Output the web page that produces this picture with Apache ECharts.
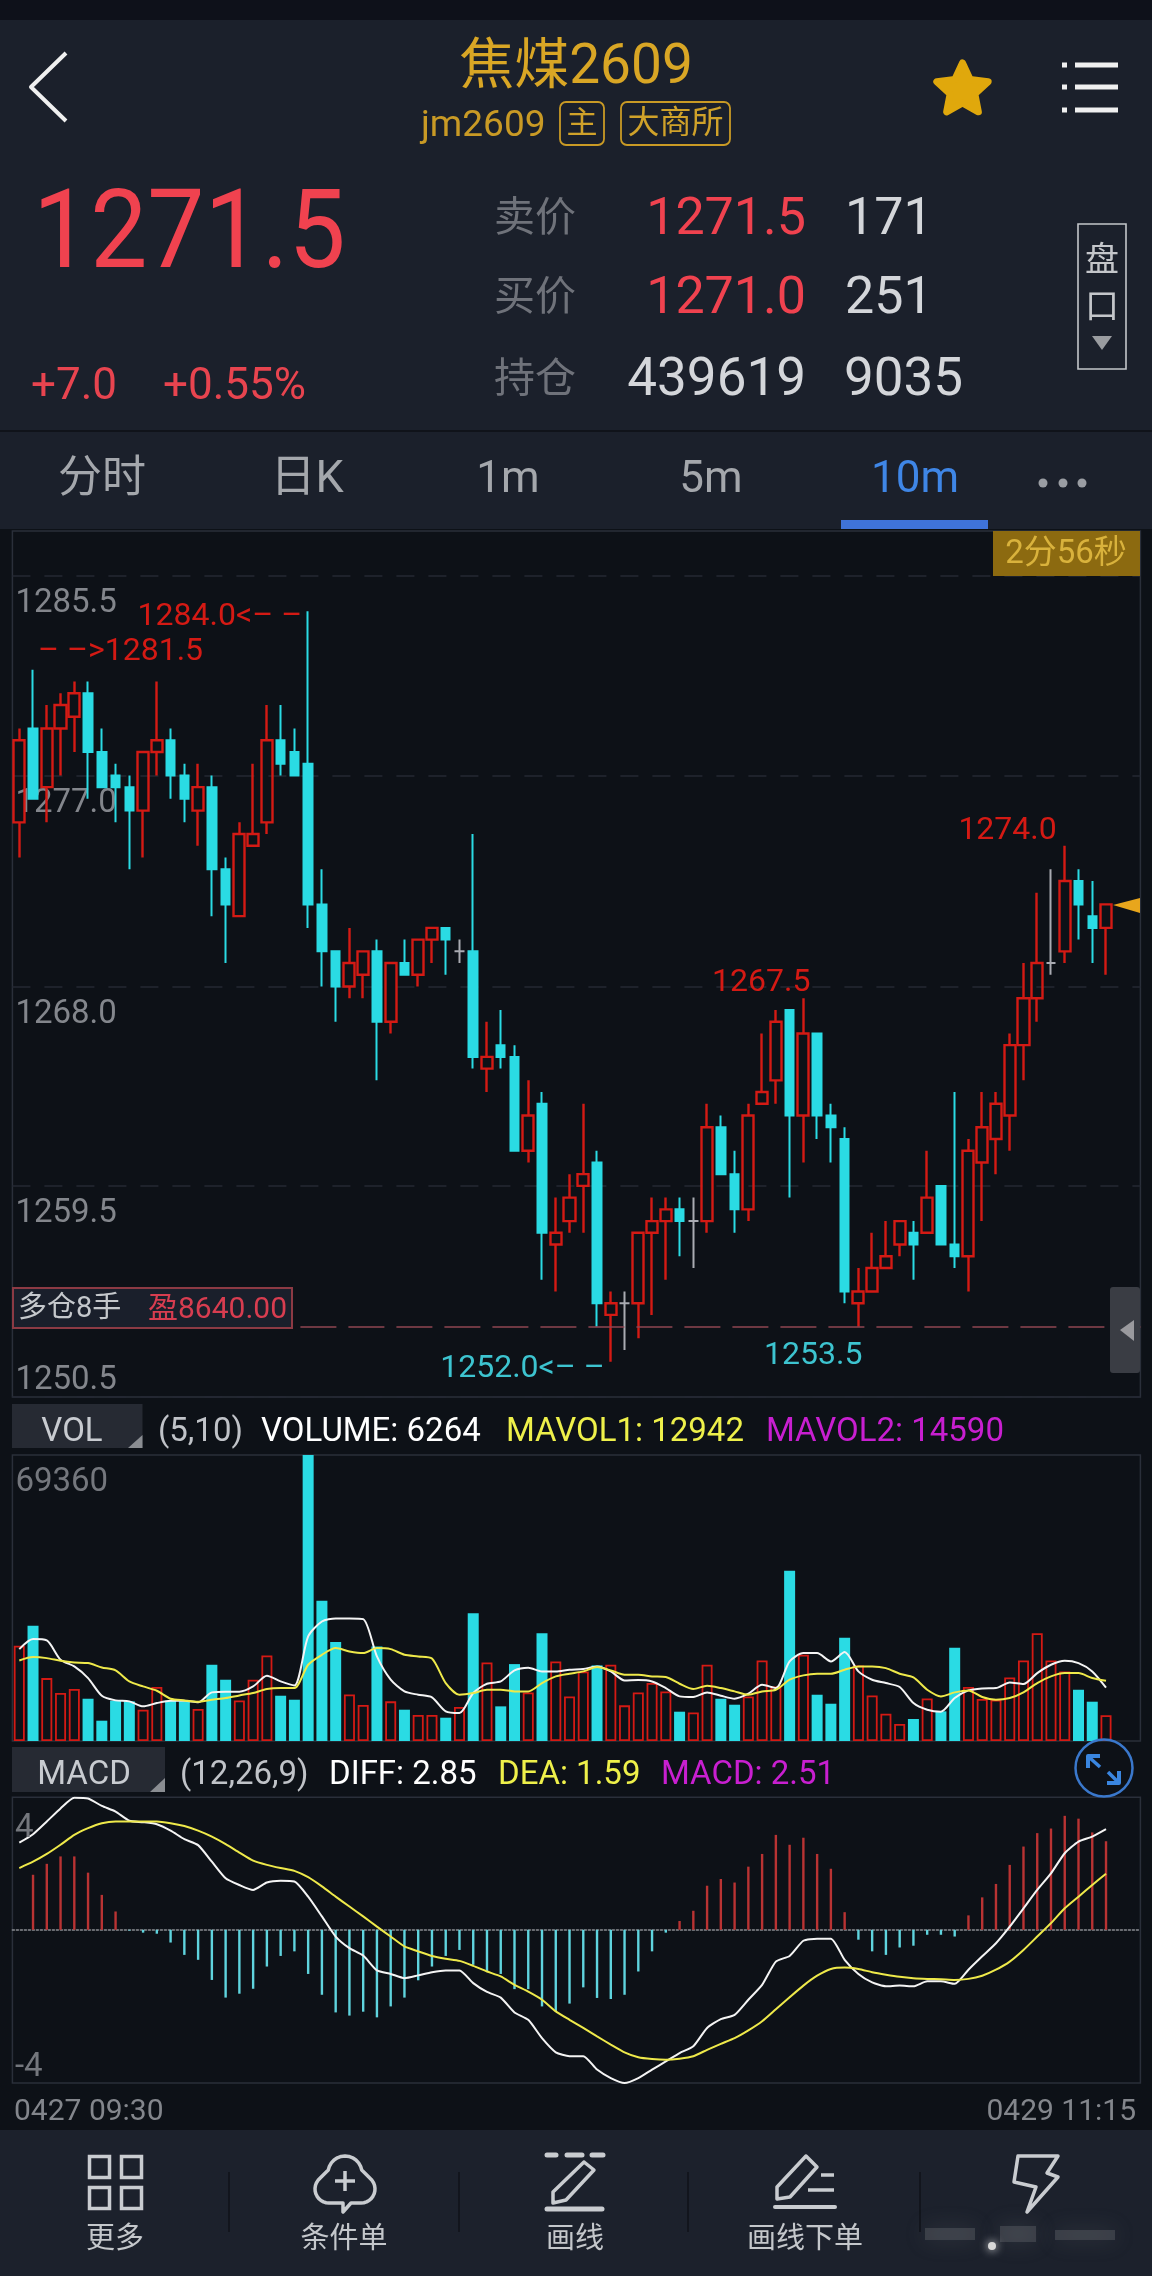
<!DOCTYPE html>
<html>
<head>
<meta charset="utf-8">
<title>jm2609</title>
<style>
html, body { margin: 0; padding: 0; background: #0d1117; }
#charts { width: 1152px; height: 2276px; }
</style>
<script src="https://cdn.jsdelivr.net/npm/echarts@6/dist/echarts.min.js"></script>
</head>
<body>
<div id="charts"></div>
<script>
var opens = [1275,1279,1276.5,1279,1279.5,1280.5,1278,1277,1276.5,1275.5,1278,1278.5,1277,1275.5,1276.5,1273,1271,1274,1275,1278.5,
    1278,1277.5,1271.5,1269.5,1268,1268.5,1269.5,1266.5,1269,1268.5,1270,1270.5,1269.5,1269.5,1264.5,1265.5,1265,1261,1263,1257,
    1258,1259.5,1260.5,1254,1254.5,1254.5,1257.5,1258,1258.5,1258,1258,1262,1260,1258.5,1263,1264,1267,1262.5,1266,1262.5,
    1261.5,1254.5,1255,1256,1257,1257.5,1257.5,1259.5,1257,1256.5,1260.5,1261.5,1262.5,1265.5,1267.5,1269,1269.5,1272.5,1271,1270.5];
var closes = [1278.5,1276,1279,1280,1280.5,1278,1276.5,1276.5,1275.5,1278,1278.5,1277,1276,1276.5,1273,1271.5,1274.5,1274.5,1278.5,1277.5,
    1277,1271.5,1269.5,1268,1269,1269.5,1266.5,1269,1268.5,1270,1270.5,1270,1269.5,1265,1265,1265,1261,1262.5,1257.5,1257.5,
    1259,1260,1254.5,1254.5,1254.5,1257.5,1258,1258.5,1258,1258,1262,1260,1258.5,1262.5,1263.5,1266.5,1262.5,1266,1262.5,1262,
    1255,1255,1256,1256.5,1258,1257,1259,1257,1256.5,1261,1262,1263,1265.5,1267.5,1269,1269,1272.5,1271.5,1270.5,1271.5];
var lows = [1273.5,1276,1275,1277,1278,1276,1276.5,1275,1273,1273.5,1277,1276,1275,1274,1271,1269,1271,1274,1274.5,1277,
    1277,1270.5,1268,1266.5,1267.5,1267.5,1264,1266,1268.5,1268,1269,1268.5,1269,1264.5,1263.5,1264.5,1261,1260.5,1255.5,1255,
    1257.5,1257.5,1253.5,1252,1252.5,1253,1254,1255.5,1256.5,1256,1257.5,1260,1257.5,1258,1263,1263,1259,1260.5,1261.5,1260.5,
    1254.5,1253.5,1255,1256,1256.5,1255.5,1257.5,1257,1256,1255,1258,1260,1261,1264,1266.5,1268.5,1269,1270,1269,1268.5];
var highs = [1279,1281.5,1280,1280.5,1281,1281,1279,1277.5,1277,1278,1281,1279,1277.5,1277.5,1277,1273.5,1275,1277.5,1280,1280,
    1279,1284,1273,1269.5,1270.5,1269.5,1270,1269,1270,1270,1270.5,1270.5,1270,1274.5,1266.5,1267,1265.5,1264,1263.5,1259,
    1260,1263,1261,1255,1255,1257.5,1259,1259,1259,1259,1263,1262.5,1261,1263,1266,1267,1267,1267.5,1266,1263,
    1262,1256,1257.5,1258,1258,1258,1261,1259.5,1263.5,1261.5,1263.5,1263.5,1266,1269,1272,1273,1274,1273,1272.5,1271.5];
var volumes = [23090,27940,15260,11630,12600,10250,4925,9770,9610,7590,13080,9770,9610,7750,18490,14860,9850,14860,20750,10980,
    10010,69360,33990,23980,11300,8720,22930,9610,7590,6300,6300,5650,8240,31000,19050,8400,18650,11790,26160,19300,
    10820,16880,18330,18490,8640,11790,14050,12030,7105,6940,18490,10250,8800,10820,19540,13240,41260,20910,11220,9040,
    25030,18330,11060,6620,4120,5330,10330,7190,22610,13080,10170,10010,15420,19540,26160,19540,16880,12430,9530,6264];
var mavol1 = [22280,24710,24380,19700,18090,15260,10980,9850,9610,8400,9200,9770,9770,9370,11790,11950,11950,13240,15830,14450,
    13480,25350,28990,29710,29710,29550,20510,14860,12030,11220,10580,7190,6780,11630,13890,14450,17120,17760,16880,16880,
    17280,17440,18090,16880,14690,14780,14450,12840,10820,10660,11790,10980,10250,11470,13650,12840,19300,21320,21320,19300,
    21560,16880,14860,14050,13080,9200,7590,7105,10420,12270,12760,12840,14210,13810,16470,18490,19460,18890,16880,12942];
var mavol2 = [19540,20350,20100,19460,19050,18890,17840,17120,14450,13240,12190,10250,9850,9530,10010,10420,11060,11630,12600,12840,
    12840,18490,20910,22530,21720,21320,22530,22280,20910,20510,20020,14050,11220,11630,12430,12430,12030,12030,14050,15660,
    16310,16880,17920,17120,16070,16070,15660,15500,13890,12600,13400,12840,12030,11220,12030,12430,14860,15910,16310,16310,
    17280,18090,18090,17680,16310,15420,12430,10820,11790,12270,10660,10010,10420,11790,14050,15660,16470,16470,15260,14590];
var diff = [2.47,2.71,3.07,3.44,3.74,3.72,3.51,3.35,3.09,3.05,2.99,2.81,2.57,2.40,1.93,1.46,1.27,1.13,1.34,1.39,
    1.37,0.94,0.38,-0.19,-0.52,-0.73,-1.15,-1.25,-1.37,-1.29,-1.20,-1.15,-1.15,-1.51,-1.76,-1.92,-2.34,-2.55,-3.07,-3.47,
    -3.58,-3.58,-3.96,-4.20,-4.34,-4.20,-3.96,-3.73,-3.49,-3.30,-2.78,-2.53,-2.41,-1.98,-1.56,-0.90,-0.74,-0.31,-0.25,-0.25,
    -0.85,-1.25,-1.49,-1.60,-1.58,-1.60,-1.46,-1.46,-1.53,-1.13,-0.75,-0.38,0.09,0.61,1.13,1.60,2.17,2.50,2.64,2.85];
var dea = [1.75,1.93,2.15,2.41,2.69,2.88,3.02,3.07,3.07,3.07,3.07,3.02,2.94,2.81,2.64,2.43,2.19,1.96,1.84,1.75,
    1.67,1.49,1.23,0.94,0.66,0.38,0.09,-0.19,-0.47,-0.61,-0.74,-0.82,-0.88,-1.02,-1.18,-1.32,-1.56,-1.75,-1.98,-2.31,
    -2.55,-2.78,-3.02,-3.25,-3.47,-3.61,-3.66,-3.68,-3.65,-3.58,-3.40,-3.23,-3.07,-2.85,-2.59,-2.25,-1.91,-1.58,-1.30,-1.11,
    -1.07,-1.11,-1.20,-1.27,-1.33,-1.37,-1.39,-1.40,-1.42,-1.39,-1.30,-1.13,-0.90,-0.57,-0.19,0.19,0.61,0.94,1.27,1.59];
var macdBars = ['-',1.56,1.87,2.08,2.08,1.62,0.99,0.52,-0.02,-0.08,-0.11,-0.36,-0.71,-0.85,-1.42,-1.92,-1.81,-1.67,-1.04,-0.74,
    -0.61,-1.25,-1.84,-2.34,-2.43,-2.32,-2.48,-2.17,-1.92,-1.43,-1.04,-0.74,-0.57,-0.99,-1.18,-1.25,-1.68,-1.68,-2.17,-2.31,
    -2.09,-1.63,-1.93,-1.96,-1.84,-1.18,-0.61,-0.08,0.25,0.54,1.25,1.44,1.34,1.79,2.15,2.69,2.41,2.61,2.15,1.73,
    0.50,-0.28,-0.61,-0.71,-0.50,-0.45,-0.14,-0.14,-0.19,0.41,0.92,1.30,1.84,2.36,2.74,2.87,3.23,3.15,2.76,2.51];

var priceTicks = [1250.5, 1259.5, 1268.0, 1277.0, 1285.5];
var volumeTicks = [69360];
var timeLabels = ['0427 09:30', '0429 11:15'];
var holdPrice = 1253.5;

var RED = '#d41a14';
var CYAN = '#2adbe4';
var GRAY = '#a9abb2';
var GOLD = '#d9a625';
var SANS = 'Roboto, "Noto Sans CJK SC", sans-serif';

// two empty slots on the right, same as the app leaves
var categories = closes.map(function (c, i) { return String(i); }).concat(['80', '81']);

function rowsWhere(test) {
    return closes.map(function (c, i) {
        return test(opens[i], c) ? [opens[i], c, lows[i], highs[i]] : ['-', '-', '-', '-'];
    });
}

function extremeLabel(i, price, text, color, pos, offset) {
    return {
        coord: [String(i), price],
        symbolSize: 0,
        label: {
            show: true, formatter: text, color: color, fontSize: 32, fontFamily: SANS,
            position: pos, distance: 0, offset: offset
        }
    };
}

function T(text, x, y, size, color, align, extra) {
    var el = {
        type: 'text', x: x, y: y + 9, z: 20, silent: true,
        style: {
            text: text, fill: color, fontSize: size, fontFamily: SANS,
            align: align || 'left', verticalAlign: 'middle',
            textAlign: align || 'left', textVerticalAlign: 'middle'
        }
    };
    if (extra) { for (var k in extra) { el[k] = extra[k]; } }
    return el;
}
function R(x, y, w, h, fill, stroke, lw, r) {
    return {
        type: 'rect', z: 15, silent: true,
        shape: { x: x, y: y, width: w, height: h, r: r || 0 },
        style: { fill: fill || 'transparent', stroke: stroke || null, lineWidth: lw || 0 }
    };
}
function P(points, fill) {
    return { type: 'polygon', z: 21, silent: true, shape: { points: points }, style: { fill: fill } };
}
function L(points, color, lw, cap) {
    return {
        type: 'polyline', z: 21, silent: true, shape: { points: points },
        style: { stroke: color, lineWidth: lw, fill: null, lineCap: cap || 'round', lineJoin: 'round' }
    };
}
function arc(cx, cy, r, a0, a1) {
    var pts = [];
    for (var k = 0; k <= 12; k++) {
        var a = (a0 + (a1 - a0) * k / 12) * Math.PI / 180;
        pts.push([cx + r * Math.cos(a), cy + r * Math.sin(a)]);
    }
    return pts;
}
function star(cx, cy, R1, R2) {
    var pts = [];
    for (var k = 0; k < 10; k++) {
        var a = (-90 + k * 36) * Math.PI / 180, rr = k % 2 ? R2 : R1;
        pts.push([cx + rr * Math.cos(a), cy + rr * Math.sin(a)]);
    }
    return pts;
}

function headerGraphics() {
    var g = [];
    // backgrounds
    g.push(R(0, 0, 1152, 20, '#0e111a'));
    g.push(R(0, 20, 1152, 410, '#1b202b'));
    g.push(R(0, 430, 1152, 2, '#10131a'));
    g.push(R(0, 432, 1152, 97, '#1b202b'));
    g.push(R(0, 2130, 1152, 146, '#1c212c'));

    // title row
    g.push(L([[66, 53], [31, 87], [66, 121]], '#f0f0f0', 4, 'butt'));
    g.push(T('焦煤2609', 576, 60, 55, GOLD, 'center'));
    g.push(T('jm2609', 421, 118, 37, '#c99a25'));
    g.push(R(560, 102, 44, 43, null, '#c99a25', 1.8, 6));
    g.push(T('主', 582, 116, 31, '#d0a22a', 'center'));
    g.push(R(621, 102, 109, 43, null, '#c99a25', 1.8, 6));
    g.push(T('大商所', 675.5, 116, 32, '#d0a22a', 'center'));
    var s = P(star(962.5, 90, 27, 13), '#e0a80c');
    s.style.stroke = '#e0a80c'; s.style.lineWidth = 7; s.style.lineJoin = 'round';
    g.push(s);
    [65, 87, 110].forEach(function (y) {
        g.push(L([[1062, y], [1067, y]], '#f0f0f0', 5, 'butt'));
        g.push(L([[1075, y], [1118, y]], '#f0f0f0', 5, 'butt'));
    });

    // quote block
    g.push(T('1271.5', 33, 230, 110, '#f0424f', 'left', { scaleX: 0.925 }));
    g.push(T('+7.0', 31, 379, 44, '#e8444f'));
    g.push(T('+0.55%', 163, 379, 44, '#e8444f'));
    var rowY = [212, 291, 373];
    g.push(T('卖价', 494, rowY[0], 41, '#6f727a'));
    g.push(T('买价', 494, rowY[1], 41, '#6f727a'));
    g.push(T('持仓', 494, rowY[2], 41, '#6f727a'));
    g.push(T('1271.5', 806, rowY[0], 52, '#f0424f', 'right'));
    g.push(T('1271.0', 806, rowY[1], 52, '#f0424f', 'right'));
    g.push(T('439619', 806, rowY[2], 53, '#d4d6da', 'right'));
    g.push(T('171', 845, rowY[0], 52, '#d4d6da'));
    g.push(T('251', 845, rowY[1], 52, '#d4d6da'));
    g.push(T('9035', 844, rowY[2], 53, '#d4d6da'));
    g.push(R(1078, 224, 48, 145, null, '#c4c6ca', 1.6));
    g.push(T('盘', 1102, 253, 34, '#c4c6ca', 'center'));
    g.push(T('口', 1102, 300, 34, '#c4c6ca', 'center'));
    g.push(P([[1092, 336], [1112, 336], [1102, 350]], '#9a9ca0'));

    // period tabs
    g.push(T('分时', 102, 472, 44, '#a4a7ac', 'center'));
    g.push(T('日K', 307, 472, 45, '#a4a7ac', 'center'));
    g.push(T('1m', 508, 472, 44, '#a4a7ac', 'center'));
    g.push(T('5m', 711, 472, 44, '#a4a7ac', 'center'));
    g.push(T('10m', 915, 472, 44, '#3f86e6', 'center'));
    [1043, 1063, 1082].forEach(function (x) {
        g.push({ type: 'circle', z: 21, silent: true, shape: { cx: x, cy: 483, r: 4.5 }, style: { fill: '#9a9da3' } });
    });
    g.push(R(841, 520, 147, 9, '#3f73d9'));
    return g;
}

function chartGraphics() {
    var g = [];
    // countdown
    g.push(R(993, 531, 147, 45, '#8c6a10'));
    g.push(T('2分56秒', 1066, 546, 33, '#d9b23c', 'center'));
    // open position tag
    g.push(R(13, 1288, 279, 40, '#1a1f2b', '#8c3a44', 2));
    g.push(T('多仓8手', 18, 1301, 29, '#c5c8cc'));
    g.push(T('盈8640.00', 148, 1301, 30, '#d83d50'));
    // last price marker
    g.push(P([[1113, 905], [1140, 898], [1140, 913]], '#e8a61c'));
    // side handle
    g.push(R(1110, 1287, 30, 86, '#3a3d44', null, 0, 3));
    g.push(P([[1120, 1330], [1134, 1320], [1134, 1341]], '#9a9a9e'));

    // VOL title
    g.push(R(12, 1404, 130.5, 44, '#262a33'));
    g.push(P([[142.5, 1435], [142.5, 1448], [128, 1448]], '#8a8d92'));
    g.push(T('VOL', 72, 1424, 33, '#c8cbd0', 'center'));
    g.push(T('(5,10)', 158, 1424, 33, '#c0c3c8'));
    g.push(T('VOLUME: 6264', 261, 1424, 33, '#ffffff'));
    g.push(T('MAVOL1: 12942', 506, 1424, 33, '#eef04a'));
    g.push(T('MAVOL2: 14590', 766, 1424, 33, '#c81fd0'));

    // MACD title
    g.push(R(12, 1747, 153, 45, '#262a33'));
    g.push(P([[165, 1778], [165, 1792], [150, 1792]], '#8a8d92'));
    g.push(T('MACD', 84, 1767, 33, '#c8cbd0', 'center'));
    g.push(T('(12,26,9)', 180, 1767, 33, '#c0c3c8'));
    g.push(T('DIFF: 2.85', 329, 1767, 33, '#ffffff'));
    g.push(T('DEA: 1.59', 498, 1767, 33, '#eef04a'));
    g.push(T('MACD: 2.51', 661, 1767, 33, '#c81fd0'));
    g.push({ type: 'circle', z: 21, silent: true, shape: { cx: 1104, cy: 1768, r: 28.5 }, style: { fill: 'transparent', stroke: '#3a78cc', lineWidth: 2.5 } });
    g.push(L([[1088, 1768], [1088, 1756], [1100, 1756]], '#3a86e0', 4, 'butt'));
    g.push(L([[1090, 1758], [1100, 1767]], '#3a86e0', 3.5, 'butt'));
    g.push(L([[1119, 1771], [1119, 1783], [1107, 1783]], '#3a86e0', 4, 'butt'));
    g.push(L([[1117, 1781], [1108, 1772]], '#3a86e0', 3.5, 'butt'));
    g.push(T('4', 15, 1820, 33, '#74777d'));
    g.push(T('-4', 15, 2059, 33, '#74777d'));

    // time labels
    g.push(T(timeLabels[0], 14, 2103, 30, '#83868c'));
    g.push(T(timeLabels[1], 1136, 2103, 30, '#83868c', 'right'));
    return g;
}

function footerGraphics() {
    var g = [], ic = '#c9ccd0', lb = '#c4c7cb';
    [229, 459, 688, 920].forEach(function (x) {
        g.push(L([[x, 2172], [x, 2232]], '#0f1218', 1.5, 'butt'));
    });
    // more
    [[88, 2155], [120, 2155], [88, 2186], [120, 2186]].forEach(function (p) {
        g.push(R(p[0] + 1.5, p[1] + 1.5, 20, 21, null, ic, 3.5));
    });
    g.push(T('更多', 115, 2232, 29, lb, 'center'));
    // conditional order
    var cloud = [[340, 2203], [331, 2203]]
        .concat(arc(329, 2189, 14, 90, 230))
        .concat(arc(345, 2173, 17, 190, 350))
        .concat(arc(361, 2189, 14, -50, 90))
        .concat([[351, 2203], [343, 2212], [343, 2203], [340, 2203]]);
    g.push(L(cloud, ic, 3.5));
    g.push(L([[345, 2171], [345, 2191]], ic, 3.5, 'butt'));
    g.push(L([[335, 2181], [355, 2181]], ic, 3.5, 'butt'));
    g.push(T('条件单', 344, 2232, 29, lb, 'center'));
    // draw line
    [[547, 556], [567, 582], [592, 603]].forEach(function (d) {
        g.push(L([[d[0], 2155], [d[1], 2155]], ic, 5));
    });
    g.push(L([[584, 2162], [594, 2170], [566, 2200], [553, 2203], [553, 2192], [584, 2162]], ic, 3.5));
    g.push(L([[547, 2209], [602, 2209]], ic, 5));
    g.push(T('画线', 575, 2232, 29, lb, 'center'));
    // draw line order
    g.push(L([[806, 2156], [817, 2167], [790, 2197], [777, 2199], [777, 2187], [806, 2156]], ic, 3.5));
    g.push(L([[821, 2175], [834, 2175]], ic, 3.5, 'butt'));
    g.push(L([[808, 2190], [834, 2190]], ic, 3.5, 'butt'));
    g.push(L([[775, 2207], [835, 2207]], ic, 4));
    g.push(T('画线下单', 805, 2232, 29, lb, 'center'));
    // bolt, its caption is smeared in the screenshot
    g.push(L([[1018, 2156], [1058, 2156], [1047, 2173], [1058, 2177], [1027, 2212], [1036, 2187], [1014, 2182], [1018, 2156]], ic, 3.5));
    [[925, 2228, 50, 12], [1000, 2226, 36, 16], [1055, 2230, 60, 10]].forEach(function (b) {
        var r = R(b[0], b[1], b[2], b[3], 'rgba(110,112,118,0.35)');
        r.style.shadowBlur = 22; r.style.shadowColor = 'rgba(120,122,128,0.7)';
        g.push(r);
    });
    g.push({ type: 'circle', z: 16, silent: true, shape: { cx: 992, cy: 2246, r: 4 }, style: { fill: '#d8d8d8', shadowBlur: 10, shadowColor: '#ffffff' } });
    return g;
}

function baseX(idx, extra) {
    var x = {
        type: 'category', gridIndex: idx, data: categories, boundaryGap: true,
        axisLine: { show: false }, axisTick: { show: false }, axisLabel: { show: false }, splitLine: { show: false }
    };
    if (extra) { for (var k in extra) { x[k] = extra[k]; } }
    return x;
}

function initChart(myChart) {
    var gridBorder = '#2a2f3a';
    var option = {
        animation: false,
        backgroundColor: '#0d1117',
        graphic: { elements: headerGraphics().concat(chartGraphics()).concat(footerGraphics()) },
        grid: [
            { left: 12.4, width: 1128, top: 531, height: 866, show: true, borderColor: gridBorder, borderWidth: 1.5 },
            { left: 12.4, width: 1128, top: 1455, height: 286, show: true, borderColor: gridBorder, borderWidth: 1.5 },
            { left: 12.4, width: 1128, top: 1797.3, height: 285.7, show: true, borderColor: gridBorder, borderWidth: 1.5 }
        ],
        xAxis: [
            baseX(0),
            baseX(1),
            baseX(2, {
                axisLine: { show: true, onZero: true, lineStyle: { color: '#8a8d92', type: [2, 2], width: 1.5 } }
            })
        ],
        yAxis: [
            {
                type: 'value', gridIndex: 0, min: 1250.5, max: 1287.42,
                axisLine: { show: false },
                axisTick: { show: false, customValues: priceTicks },
                axisLabel: {
                    inside: true, margin: 3, customValues: priceTicks, color: '#83868c', fontSize: 33, fontFamily: SANS,
                    verticalAlign: 'top', verticalAlignMinLabel: 'bottom', verticalAlignMaxLabel: 'top',
                    lineHeight: 32, padding: [12, 0, 0, 0],
                    formatter: function (v) { return v.toFixed(1); }
                },
                splitLine: { show: true, lineStyle: { color: '#252933', type: [18, 14], width: 1.5 } }
            },
            {
                type: 'value', gridIndex: 1, min: 0, max: 69360,
                axisLine: { show: false },
                axisTick: { show: false, customValues: volumeTicks },
                axisLabel: {
                    inside: true, margin: 3, customValues: volumeTicks, color: '#74777d', fontSize: 33, fontFamily: SANS,
                    verticalAlign: 'top', verticalAlignMaxLabel: 'top', lineHeight: 32, padding: [12, 0, 0, 0],
                    formatter: function (v) { return String(v); }
                },
                splitLine: { show: false }
            },
            {
                type: 'value', gridIndex: 2, min: -4.34, max: 3.755,
                axisLine: { show: false }, axisTick: { show: false }, axisLabel: { show: false }, splitLine: { show: false }
            }
        ],
        series: [
            {
                name: 'up', type: 'candlestick', xAxisIndex: 0, yAxisIndex: 0, barWidth: 11.6,
                data: rowsWhere(function (o, c) { return c > o; }),
                itemStyle: { color: 'transparent', color0: 'transparent', borderColor: RED, borderColor0: RED, borderColorDoji: RED, borderWidth: 2.4 },
                markLine: {
                    silent: true, symbol: 'none', label: { show: false },
                    lineStyle: { color: '#8e4652', type: [36, 12], width: 1.5 },
                    data: [{ yAxis: holdPrice }]
                },
                markPoint: {
                    silent: true,
                    data: [
                        extremeLabel(21, 1284, '1284.0<– –', RED, 'left', [-6, 6]),
                        extremeLabel(1, 1281.5, '– –>1281.5', RED, 'right', [5, -18]),
                        extremeLabel(57, 1267.5, '1267.5', RED, 'left', [7, -15]),
                        extremeLabel(76, 1274, '1274.0', RED, 'left', [-8, -15]),
                        extremeLabel(43, 1252, '1252.0<– –', '#3dc4d0', 'left', [-6, 7]),
                        extremeLabel(61, 1253.5, '1253.5', '#3dc4d0', 'left', [4, 29])
                    ]
                }
            },
            {
                name: 'down', type: 'candlestick', xAxisIndex: 0, yAxisIndex: 0, barWidth: 9,
                data: rowsWhere(function (o, c) { return c < o; }),
                itemStyle: { color: CYAN, color0: CYAN, borderColor: CYAN, borderColor0: CYAN, borderColorDoji: CYAN, borderWidth: 2 }
            },
            {
                name: 'flat', type: 'candlestick', xAxisIndex: 0, yAxisIndex: 0, barWidth: 10,
                data: rowsWhere(function (o, c) { return c === o; }),
                itemStyle: { color: GRAY, color0: GRAY, borderColor: GRAY, borderColor0: GRAY, borderColorDoji: GRAY, borderWidth: 2 }
            },
            {
                name: 'volume', type: 'bar', xAxisIndex: 1, yAxisIndex: 1, barWidth: 11,
                data: volumes.map(function (v, i) {
                    var up = closes[i] >= opens[i];
                    return {
                        value: v,
                        itemStyle: up ? { color: 'transparent', borderColor: RED, borderWidth: 1.8 } : { color: CYAN }
                    };
                })
            },
            {
                name: 'mavol1', type: 'line', xAxisIndex: 1, yAxisIndex: 1, data: mavol1, showSymbol: false, smooth: 0.25,
                lineStyle: { color: '#f4f4f4', width: 2 }, z: 5
            },
            {
                name: 'mavol2', type: 'line', xAxisIndex: 1, yAxisIndex: 1, data: mavol2, showSymbol: false, smooth: 0.25,
                lineStyle: { color: '#eee94a', width: 2 }, z: 5
            },
            {
                name: 'macd', type: 'bar', xAxisIndex: 2, yAxisIndex: 2, barWidth: 2.4, data: macdBars,
                itemStyle: {
                    color: function (p) { return p.value >= 0 ? '#b93333' : '#5fd4de'; }
                }
            },
            {
                name: 'diff', type: 'line', xAxisIndex: 2, yAxisIndex: 2, data: diff, showSymbol: false, smooth: 0.2,
                lineStyle: { color: '#f4f4f4', width: 2 }, z: 5
            },
            {
                name: 'dea', type: 'line', xAxisIndex: 2, yAxisIndex: 2, data: dea, showSymbol: false, smooth: 0.2,
                lineStyle: { color: '#eee94a', width: 2 }, z: 5
            }
        ]
    };
    myChart.setOption(option);
}

window.onload = function () {
    var myChart = echarts.init(document.getElementById('charts'));
    initChart(myChart);
};
</script>
</body>
</html>
